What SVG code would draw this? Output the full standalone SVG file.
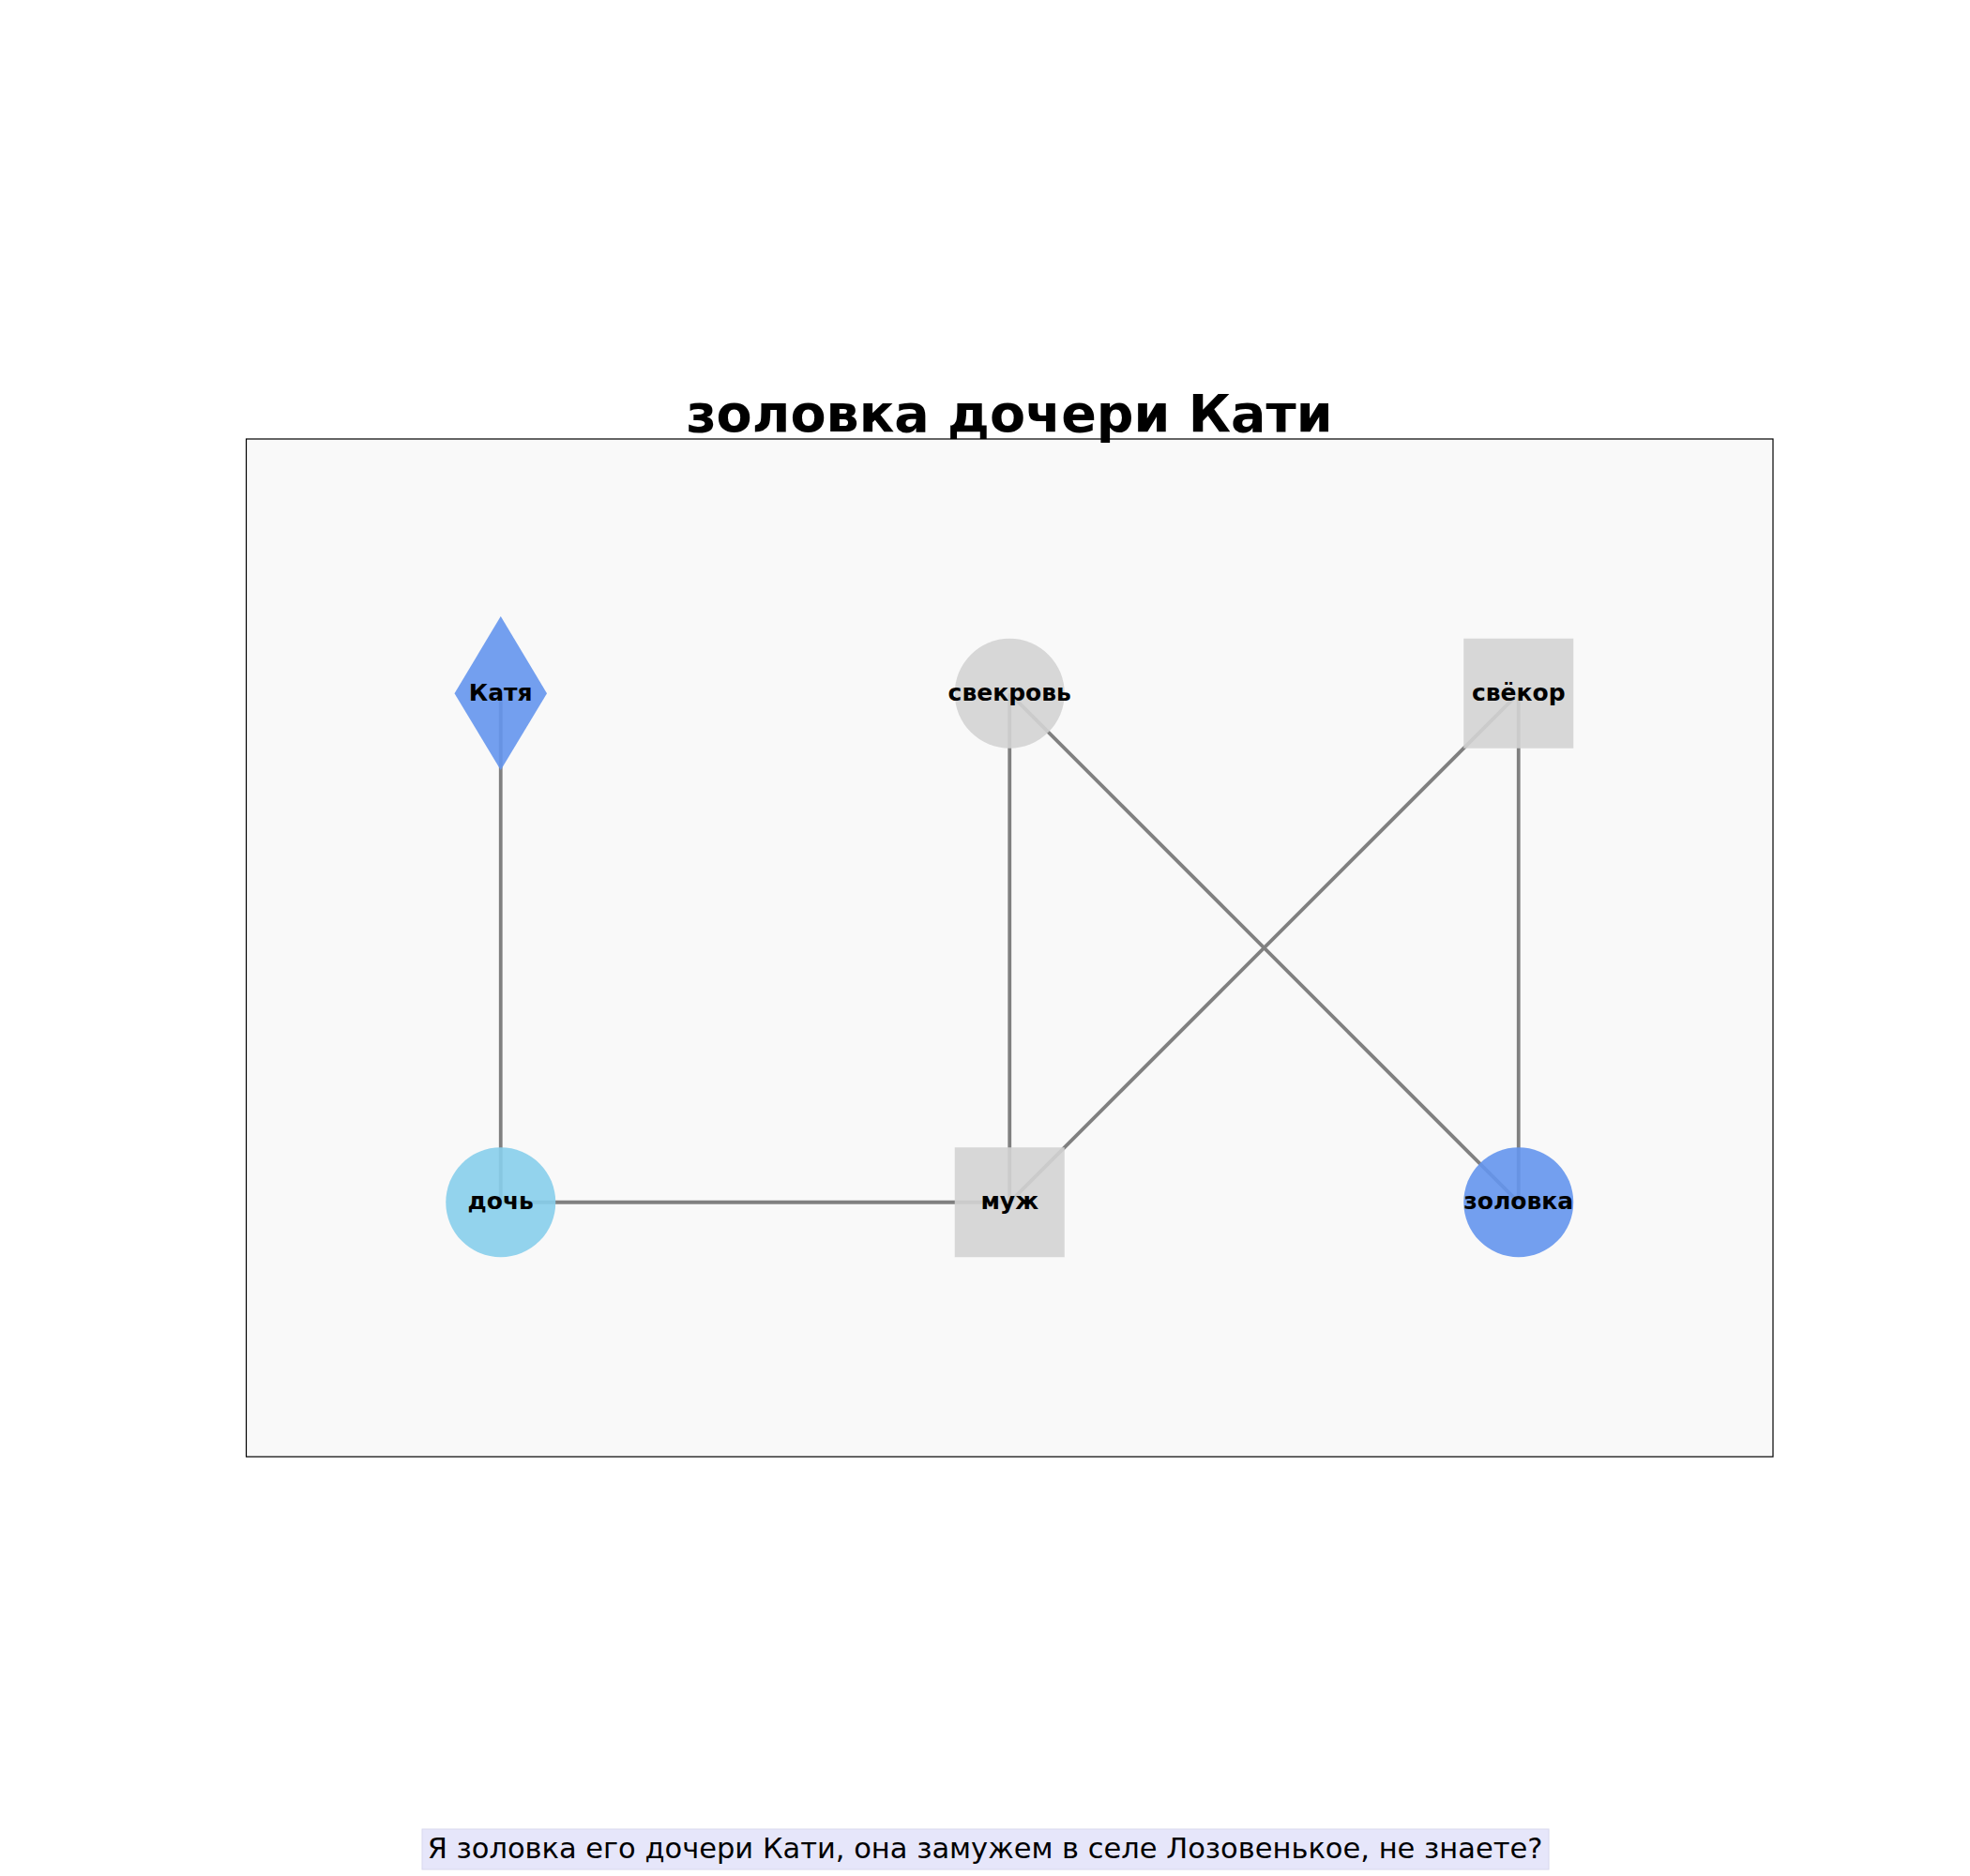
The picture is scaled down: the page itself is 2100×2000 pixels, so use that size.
<svg xmlns="http://www.w3.org/2000/svg" width="2100" height="2000" viewBox="0 0 2100 2000">
  <style>
    .edge { stroke: #808080; stroke-width: 3.8; fill: none; stroke-linecap: butt; }
    .gray { fill: #d3d3d3; fill-opacity: 0.9; }
    .blue { fill: #6495ed; fill-opacity: 0.9; }
    .sky { fill: #87ceeb; fill-opacity: 0.9; }
    .lbl { font-family: "DejaVu Sans", "Noto Sans", sans-serif; font-weight: bold; font-size: 25px; fill: #000; text-anchor: middle; }
    .title { font-family: "DejaVu Sans", "Noto Sans", sans-serif; font-weight: bold; font-size: 55.5px; fill: #000; text-anchor: middle; }
    .caption { font-family: "DejaVu Sans", "Noto Sans", sans-serif; font-size: 30.5px; fill: #000; text-anchor: middle; }
  </style>
  <rect x="0" y="0" width="2100" height="2000" fill="#ffffff"/>
  <rect id="axes" x="262.5" y="468" width="1627.5" height="1085" fill="#f9f9f9" stroke="#000" stroke-width="1.2"/>
  <text id="title" class="title" x="1076" y="460">золовка дочери Кати</text>
  <g id="connectors">
    <line class="edge" x1="533.75" y1="739.25" x2="533.75" y2="1281.75"/>
    <line class="edge" x1="533.75" y1="1281.75" x2="1076.25" y2="1281.75"/>
    <line class="edge" x1="1076.25" y1="739.25" x2="1076.25" y2="1281.75"/>
    <line class="edge" x1="1076.25" y1="739.25" x2="1618.75" y2="1281.75"/>
    <line class="edge" x1="1618.75" y1="739.25" x2="1076.25" y2="1281.75"/>
    <line class="edge" x1="1618.75" y1="739.25" x2="1618.75" y2="1281.75"/>
  </g>
  <g id="node-katya">
    <polygon class="blue" points="533.75,657 583,739.25 533.75,821 484.5,739.25"/>
    <text class="lbl" x="533.75" y="746.5">Катя</text>
  </g>
  <g id="node-svekrov">
    <circle class="gray" cx="1076.25" cy="739.25" r="58.5"/>
    <text class="lbl" x="1076.25" y="746.5">свекровь</text>
  </g>
  <g id="node-svekor">
    <rect class="gray" x="1560.25" y="680.75" width="117" height="117"/>
    <text class="lbl" x="1618.75" y="746.5">свёкор</text>
  </g>
  <g id="node-doch">
    <circle class="sky" cx="533.75" cy="1281.75" r="58.5"/>
    <text class="lbl" x="533.75" y="1289">дочь</text>
  </g>
  <g id="node-muzh">
    <rect class="gray" x="1017.75" y="1223.25" width="117" height="117"/>
    <text class="lbl" x="1076.25" y="1289">муж</text>
  </g>
  <g id="node-zolovka">
    <circle class="blue" cx="1618.75" cy="1281.75" r="58.5"/>
    <text class="lbl" x="1618.75" y="1289">золовка</text>
  </g>
  <g id="caption">
    <rect x="450" y="1950" width="1201" height="43" fill="#e6e6fa" stroke="#d8d8ee" stroke-width="1"/>
    <text class="caption" x="1050" y="1981">Я золовка его дочери Кати, она замужем в селе Лозовенькое, не знаете?</text>
  </g>
</svg>
